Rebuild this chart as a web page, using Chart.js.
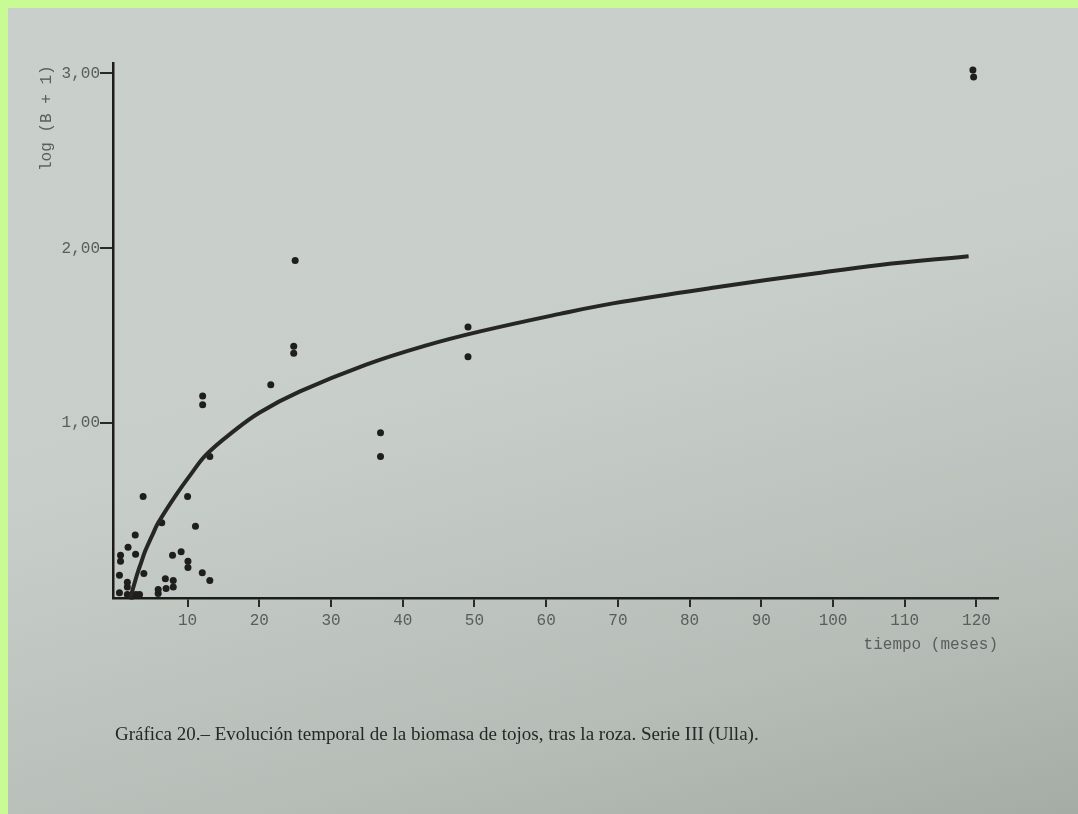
<!DOCTYPE html>
<html>
<head>
<meta charset="utf-8">
<script src="https://cdn.jsdelivr.net/npm/chart.js@4"></script>
<style>
  html, body { margin: 0; padding: 0; }
  body { width: 1078px; height: 814px; background: #c8fb94; position: relative; overflow: hidden; }
  #paper {
    position: absolute; left: 8px; top: 8px; right: 0; bottom: 0;
    background: linear-gradient(165deg, #c9cfcb 0%, #c8cec9 45%, #b6bcb6 80%, #a5aba5 100%);
  }
  #chart { position: absolute; left: 0; top: 0; }
  #ytitle {
    position: absolute; left: 38px; top: 171px;
    transform-origin: 0 0; transform: rotate(-90deg);
    font-family: "Liberation Mono", monospace; font-size: 16px; color: #5a5e5b;
    white-space: nowrap;
  }
  #caption {
    position: absolute; left: 115px; top: 723px;
    font-family: "Liberation Serif", serif; font-size: 19px; color: #262826;
    white-space: nowrap;
  }
</style>
</head>
<body>
<div id="paper"></div>
<canvas id="chart" width="1078" height="814"></canvas>
<div id="ytitle">log (B + 1)</div>
<div id="caption">Gráfica 20.– Evolución temporal de la biomasa de tojos, tras la roza. Serie III (Ulla).</div>
<script>
// observed points (months, log(B+1))
const meses = [0.5, 0.5, 0.65, 0.65, 1.6, 1.6, 1.7, 1.6, 2.2, 2.8, 3.3, 2.7, 2.75, 3.9, 3.8,
  5.9, 5.9, 6.4, 6.9, 7.0, 8.0, 8.0, 7.9, 9.1, 10.0, 10.05, 10.05, 11.1, 12.05, 13.1, 13.1,
  12.1, 12.1, 21.6, 25.0, 24.8, 24.8, 36.9, 36.9, 49.1, 49.1, 119.5, 119.6];
const biomasa = [0.03, 0.13, 0.21, 0.245, 0.063, 0.09, 0.29, 0.02, 0.01, 0.02, 0.02, 0.36, 0.25, 0.14, 0.58,
  0.026, 0.048, 0.43, 0.11, 0.055, 0.10, 0.063, 0.245, 0.265, 0.58, 0.21, 0.175, 0.41, 0.145, 0.10, 0.81,
  1.156, 1.106, 1.22, 1.93, 1.44, 1.40, 0.945, 0.81, 1.55, 1.38, 3.02, 2.98];

// fitted curve
const curvaX = [2.0, 2.5, 3.0, 3.5, 4.1, 5.2, 5.9, 8.4, 10.5, 12.6, 16.3, 20, 25.6, 34.9, 43.3, 50.8, 61.9, 69.3, 84.2, 97.2, 106.5, 118.9];
const curvaY = [0.0, 0.07, 0.14, 0.2, 0.27, 0.37, 0.43, 0.59, 0.71, 0.82, 0.95, 1.06, 1.18, 1.335, 1.445, 1.525, 1.625, 1.685, 1.78, 1.855, 1.905, 1.955];

const xTicks = [10, 20, 30, 40, 50, 60, 70, 80, 90, 100, 110, 120];
const yTicks = [1, 2, 3];

const puntos = meses.map((m, i) => ({ x: m, y: biomasa[i] }));
const curva = curvaX.map((m, i) => ({ x: m, y: curvaY[i] }));

const tickFont = { family: 'Liberation Mono', size: 16 };

new Chart(document.getElementById('chart'), {
  type: 'scatter',
  data: {
    datasets: [
      {
        label: 'curva',
        data: curva,
        showLine: true,
        borderColor: '#262626',
        borderWidth: 4,
        pointRadius: 0,
        tension: 0.4,
        clip: false
      },
      {
        label: 'datos',
        data: puntos,
        pointRadius: 3.5,
        pointBackgroundColor: '#1e1e1e',
        pointBorderWidth: 0,
        clip: false
      }
    ]
  },
  options: {
    responsive: false,
    animation: false,
    events: [],
    layout: { padding: { left: 53, right: 80, top: 63, bottom: 156 } },
    plugins: { legend: { display: false }, tooltip: { enabled: false } },
    scales: {
      x: {
        type: 'linear',
        min: -0.4,
        max: 123,
        afterBuildTicks: (axis) => { axis.ticks = xTicks.map(v => ({ value: v })); },
        afterFit: (scale) => { scale.height = 60; },
        border: { display: true, color: '#1c1c1c', width: 2.5 },
        grid: { display: true, drawOnChartArea: false, drawTicks: true, tickLength: 9, color: '#2a2a2a', lineWidth: 2 },
        ticks: { color: '#5a5e5b', font: tickFont, padding: 4, maxRotation: 0, autoSkip: false },
        title: {
          display: true, text: 'tiempo (meses)', align: 'end',
          color: '#5a5e5b', font: tickFont, padding: { top: -3 }
        }
      },
      y: {
        type: 'linear',
        min: 0,
        max: 3.06,
        afterBuildTicks: (axis) => { axis.ticks = yTicks.map(v => ({ value: v })); },
        afterFit: (scale) => { scale.width = 60; },
        border: { display: true, color: '#1c1c1c', width: 2.5 },
        grid: { display: true, drawOnChartArea: false, drawTicks: true, tickLength: 13, color: '#2a2a2a', lineWidth: 2 },
        ticks: {
          color: '#5a5e5b', font: tickFont, padding: 0, autoSkip: false,
          callback: (v) => v.toFixed(2).replace('.', ',')
        }
      }
    }
  }
});
</script>
</body>
</html>
